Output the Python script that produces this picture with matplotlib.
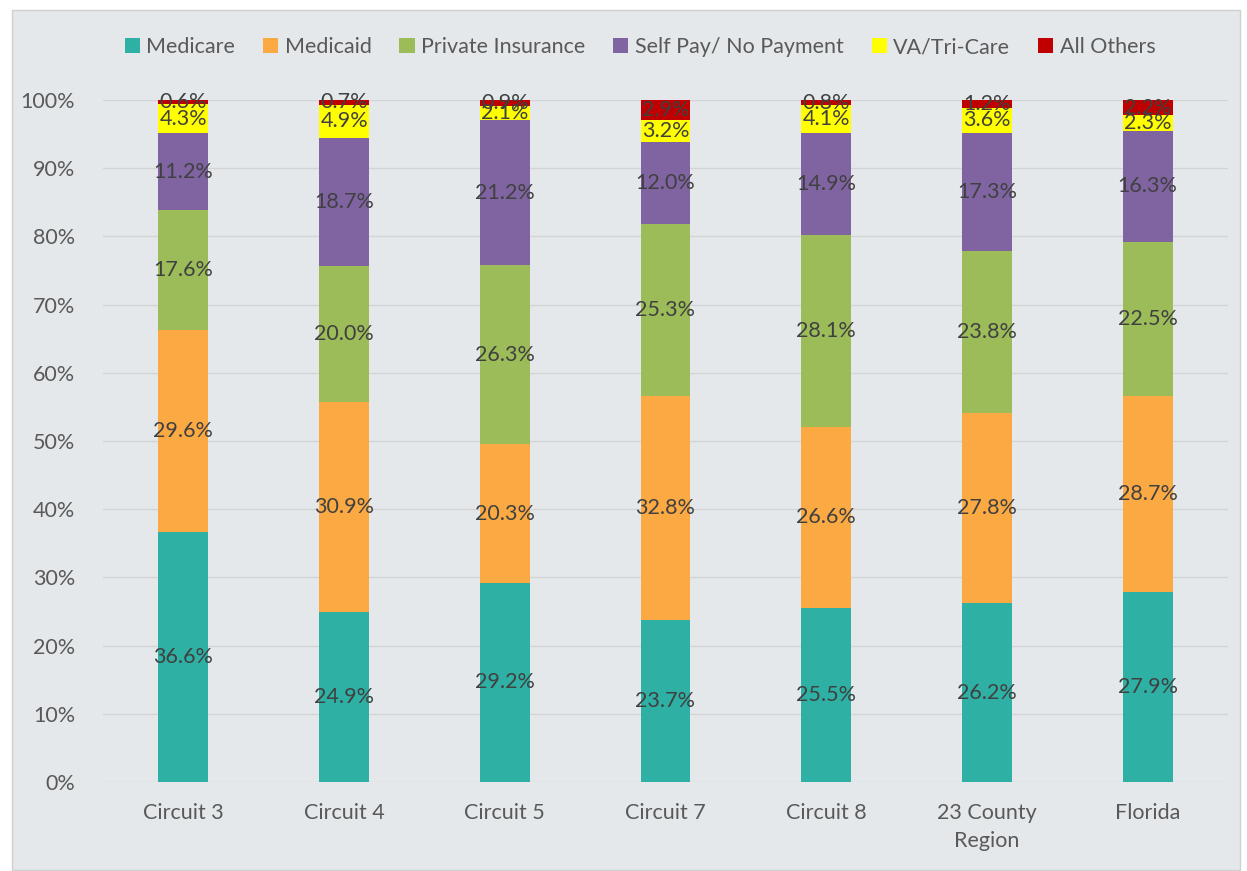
import numpy as np
import matplotlib.pyplot as plt
from matplotlib.patches import Rectangle

categories = ["Circuit 3", "Circuit 4", "Circuit 5", "Circuit 7", "Circuit 8", "23 County\nRegion", "Florida"]
series = ["Medicare", "Medicaid", "Private Insurance", "Self Pay/ No Payment", "VA/Tri-Care", "All Others"]
medicare = [36.6, 24.9, 29.2, 23.7, 25.5, 26.2, 27.9]
medicaid = [29.6, 30.9, 20.3, 32.8, 26.6, 27.8, 28.7]
private = [17.6, 20.0, 26.3, 25.3, 28.1, 23.8, 22.5]
self_pay = [11.2, 18.7, 21.2, 12.0, 14.9, 17.3, 16.3]
va = [4.3, 4.9, 2.1, 3.2, 4.1, 3.6, 2.3]
others = [0.6, 0.7, 0.9, 2.9, 0.8, 1.2, 2.2]
colors = ["#2EB0A4", "#FBA943", "#9CBB59", "#8064A2", "#FFFF00", "#C00000"]

plt.rcParams['font.family'] = ['Lato', 'DejaVu Sans']

W, H = 1247, 871
fig = plt.figure(figsize=(W / 100, H / 100), dpi=100)
fig.patch.set_facecolor("white")
bg = "#E4E8EB"
fig.patches.append(Rectangle((12 / W, 1 - 870 / H), 1228 / W, 860 / H, transform=fig.transFigure,
                             facecolor=bg, edgecolor="#D0D0D0", lw=1, zorder=-10))

ax = fig.add_axes([103 / W, 1 - 782 / H, 1125 / W, 682 / H])
ax.set_zorder(1)
ax.set_facecolor(bg)

data = np.array([medicare, medicaid, private, self_pay, va, others])
totals = data.sum(axis=0)
x = np.arange(len(categories))
bottom = np.zeros(len(categories))
for vals, name, c in zip(data, series, colors):
    h = vals / totals * 100
    ax.bar(x, h, 0.31, bottom=bottom, color=c, label=name, zorder=3)
    for xi, b, hi, v in zip(x, bottom, h, vals):
        ax.text(xi, b + hi / 2, f"{v:.1f}%", ha="center", va="center",
                fontsize=15.5, color="#404040", zorder=4)
    bottom += h

ax.set_xlim(-0.5, len(categories) - 0.5)
ax.set_ylim(0, 100)
ax.set_yticks(np.arange(0, 101, 10))
ax.set_yticklabels([f"{t}%" for t in range(0, 101, 10)])
ax.set_xticks(x)
ax.set_xticklabels(categories, linespacing=1.5)
ax.tick_params(axis="both", length=0, labelsize=15.5, labelcolor="#595959")
ax.tick_params(axis="y", pad=20)
ax.tick_params(axis="x", pad=15)
ax.grid(axis="y", color="#D4D4D4", lw=1, zorder=0)
for s in ax.spines.values():
    s.set_visible(False)

fig.legend(loc="center", bbox_to_anchor=(640 / W, 1 - 47 / H), ncol=6, frameon=False,
           fontsize=15.5, labelcolor="#595959", handlelength=0.7, handleheight=0.7,
           handletextpad=0.3, columnspacing=1.3)

fig.savefig("out.png", dpi=100, facecolor="white")
